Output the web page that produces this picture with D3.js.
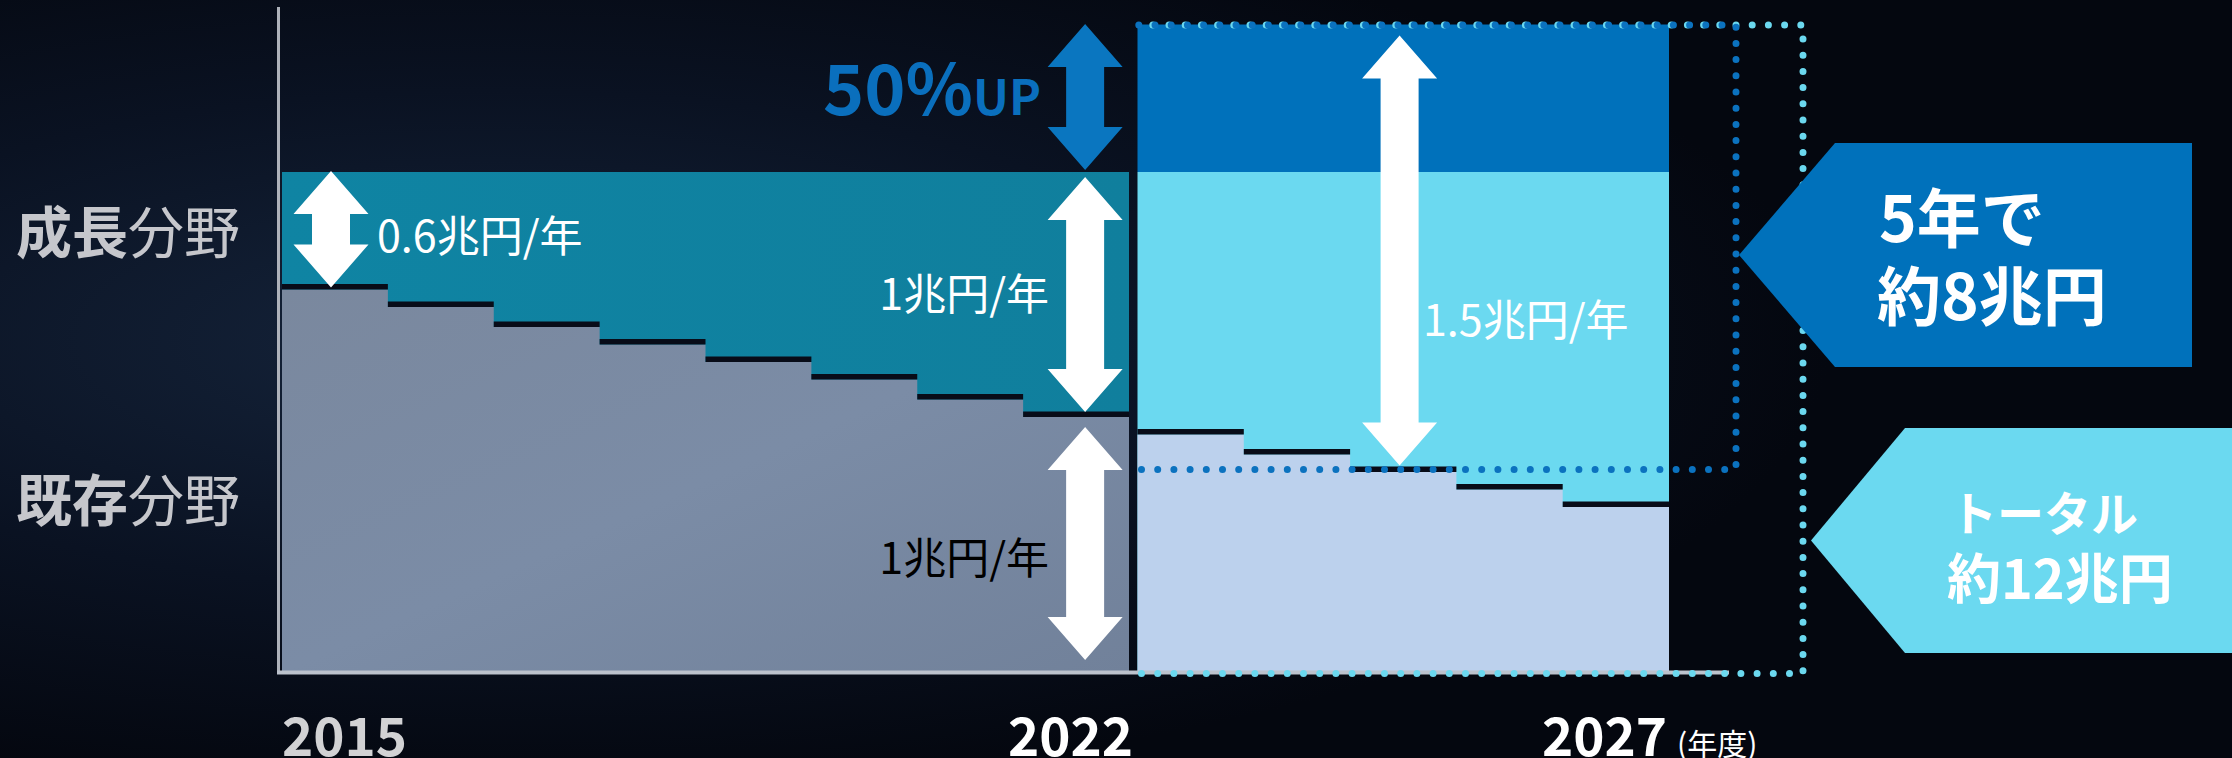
<!DOCTYPE html>
<html>
<head>
<meta charset="utf-8">
<script src="https://cdn.jsdelivr.net/npm/d3@7"></script>
<style>
  html, body { margin: 0; padding: 0; background: #050a15; }
  svg { display: block; }
</style>
</head>
<body>
<svg id="chart" width="2232" height="758"></svg>
<script>
// ---------------- data ----------------
const phase1Years = [2015, 2016, 2017, 2018, 2019, 2020, 2021, 2022];
const phase2Years = [2023, 2024, 2025, 2026, 2027];
// existing-field level per year (schematic units)
const existingPhase1 = [1.53, 1.46, 1.38, 1.31, 1.24, 1.17, 1.09, 1.02];
const existingPhase2 = [0.95, 0.87, 0.80, 0.73, 0.66];
// total investment level (existing + growth)
const totalPhase1 = 2.0;
const totalPhase2Base = 2.0;
const totalPhase2Up = 2.59;
const categoryLabels = [["成長", "分野"], ["既存", "分野"]];
const yearTickLabels = ["2015", "2022", "2027"];
const unitLabel = "(年度)";
const rateLabels = ["0.6兆円/年", "1兆円/年", "1兆円/年", "1.5兆円/年"];
const upLabel = ["50%", "UP"];
const callout1 = ["5年で", "約8兆円"];
const callout2 = ["トータル", "約12兆円"];

// ---------------- setup ----------------
const svg = d3.select("#chart");
const W = 2232, H = 758;
const FONT = "'Noto Sans CJK JP', 'Noto Sans', sans-serif";

const xL = d3.scaleLinear().domain([2015, 2023]).range([282, 1129]);
const xR = d3.scaleLinear().domain([2023, 2028]).range([1137.5, 1669]);
const y = d3.scaleLinear().domain([0, 2]).range([672, 172]);

// background
const defs = svg.append("defs");
const bg = defs.append("radialGradient").attr("id", "bgGlow").attr("cx", "22%").attr("cy", "45%").attr("r", "60%");
bg.append("stop").attr("offset", "0%").attr("stop-color", "#15243b");
bg.append("stop").attr("offset", "55%").attr("stop-color", "#0a1222");
bg.append("stop").attr("offset", "100%").attr("stop-color", "#04070f");
svg.append("rect").attr("width", W).attr("height", H).attr("fill", "url(#bgGlow)");

const greyGrad = defs.append("linearGradient").attr("id", "greyFill").attr("x1", "0").attr("y1", "0").attr("x2", "1").attr("y2", "1");
greyGrad.append("stop").attr("offset", "0%").attr("stop-color", "#7a889e");
greyGrad.append("stop").attr("offset", "50%").attr("stop-color", "#7b8ca6");
greyGrad.append("stop").attr("offset", "100%").attr("stop-color", "#71819a");

const tealGrad = defs.append("linearGradient").attr("id", "tealFill").attr("x1", "0").attr("y1", "0").attr("x2", "1").attr("y2", "0");
tealGrad.append("stop").attr("offset", "0%").attr("stop-color", "#0f84a3");
tealGrad.append("stop").attr("offset", "100%").attr("stop-color", "#107f9d");

const g = svg.append("g");

// step area helper: one path per phase (no seams)
function stepArea(years, values, xs) {
  const pts = years.map((d, i) => [xs(d), y(values[i])]);
  pts.push([xs(years[years.length - 1] + 1), y(values[values.length - 1])]);
  return d3.area().x(p => p[0]).y0(y(0)).y1(p => p[1]).curve(d3.curveStepAfter)(pts);
}

// ---------------- phase 1 (2015-2022) ----------------
g.append("rect")
  .attr("x", xL(2015)).attr("y", y(totalPhase1))
  .attr("width", xL(2023) - xL(2015)).attr("height", y(0) - y(totalPhase1))
  .attr("fill", "url(#tealFill)");

g.append("path").attr("d", stepArea(phase1Years, existingPhase1, xL)).attr("fill", "url(#greyFill)");

g.selectAll(".p1line").data(phase1Years).join("rect")
  .attr("x", d => xL(d)).attr("width", d => xL(d + 1) - xL(d))
  .attr("y", (d, i) => y(existingPhase1[i]) - 5.5)
  .attr("height", 5.5)
  .attr("fill", "#080c18");

// ---------------- phase 2 (2023-2027) ----------------
g.append("rect")
  .attr("x", xR(2023)).attr("y", y(totalPhase2Up))
  .attr("width", xR(2028) - xR(2023)).attr("height", y(totalPhase2Base) - y(totalPhase2Up))
  .attr("fill", "#0071bb");
g.append("rect")
  .attr("x", xR(2023)).attr("y", y(totalPhase2Base))
  .attr("width", xR(2028) - xR(2023)).attr("height", y(0) - y(totalPhase2Base))
  .attr("fill", "#6bd9f0");

g.append("path").attr("d", stepArea(phase2Years, existingPhase2, xR)).attr("fill", "#bcd1ed");

g.selectAll(".p2line").data(phase2Years).join("rect")
  .attr("x", d => xR(d)).attr("width", d => xR(d + 1) - xR(d))
  .attr("y", (d, i) => y(existingPhase2[i]) - 5.5)
  .attr("height", 5.5)
  .attr("fill", "#080c18");

// ---------------- axes ----------------
g.append("line")
  .attr("x1", 278.5).attr("x2", 278.5).attr("y1", 7).attr("y2", y(0) + 2)
  .attr("stroke", "#aeb2ba").attr("stroke-width", 3);
g.append("line")
  .attr("x1", 277).attr("x2", xR(2028) + 60).attr("y1", y(0) + 0.5).attr("y2", y(0) + 0.5)
  .attr("stroke", "#bcc2cc").attr("stroke-width", 4);

// ---------------- dotted outlines ----------------
const dotBase = y(0) + 1.5;
const rightCyan = xR(2028) + 134;
const rightBlue = xR(2028) + 67;
const topDot = y(totalPhase2Up) + 0.5;
g.append("path")
  .attr("d", `M${xR(2023) + 4},${dotBase} L${rightCyan},${dotBase} L${rightCyan},${topDot} L${xR(2023)},${topDot}`)
  .attr("fill", "none").attr("stroke", "#6bd8ef").attr("stroke-width", 7)
  .attr("stroke-linecap", "round").attr("stroke-dasharray", "0 16.2");
const blueBottom = y(existingPhase2[2]) - 2.5;
g.append("path")
  .attr("d", `M${xR(2023) + 4},${blueBottom} L${rightBlue},${blueBottom} L${rightBlue},${topDot} L${xR(2023)},${topDot}`)
  .attr("fill", "none").attr("stroke", "#0b72bf").attr("stroke-width", 7)
  .attr("stroke-linecap", "round").attr("stroke-dasharray", "0 16.2");

// ---------------- arrows ----------------
function doubleArrow(cx, y1, y2, color) {
  const hw = 75 / 2, hh = 43, sw = 38 / 2;
  const p = d3.path();
  p.moveTo(cx, y1);
  p.lineTo(cx + hw, y1 + hh); p.lineTo(cx + sw, y1 + hh);
  p.lineTo(cx + sw, y2 - hh); p.lineTo(cx + hw, y2 - hh);
  p.lineTo(cx, y2);
  p.lineTo(cx - hw, y2 - hh); p.lineTo(cx - sw, y2 - hh);
  p.lineTo(cx - sw, y1 + hh); p.lineTo(cx - hw, y1 + hh);
  p.closePath();
  g.append("path").attr("d", p.toString()).attr("fill", color);
}
doubleArrow(xL(2015) + 49, y(totalPhase1) - 1, y(existingPhase1[0]) - 2, "#ffffff");
doubleArrow(xL(2022) + 62, y(totalPhase1) + 5, y(existingPhase1[7]) - 5, "#ffffff");
doubleArrow(xL(2022) + 62, y(existingPhase1[7]) + 10, y(0) - 12, "#ffffff");
doubleArrow(xL(2022) + 62, y(totalPhase2Up) - 0.5, y(totalPhase1) - 2, "#0a76c0");
doubleArrow(xR(2025) + 49.5, y(totalPhase2Up) + 11, y(existingPhase2[2]) - 6.5, "#ffffff");

// ---------------- rate labels ----------------
const rateStyle = sel => sel.attr("font-family", FONT).attr("font-size", 43)
  .attr("dominant-baseline", "central");
rateStyle(g.append("text").attr("x", 377).attr("y", 233).attr("fill", "#ffffff").text(rateLabels[0]));
rateStyle(g.append("text").attr("x", 1049).attr("y", 291).attr("text-anchor", "end").attr("fill", "#ffffff").text(rateLabels[1]));
rateStyle(g.append("text").attr("x", 1049).attr("y", 555).attr("text-anchor", "end").attr("fill", "#000000").text(rateLabels[2]));
rateStyle(g.append("text").attr("x", 1423).attr("y", 317).attr("fill", "#ffffff").text(rateLabels[3]));

// 50% UP
const up = g.append("text").attr("x", 823).attr("y", 115)
  .attr("font-family", FONT).attr("font-weight", "bold").attr("fill", "#0a6fbd");
up.append("tspan").attr("font-size", 70).text(upLabel[0]);
up.append("tspan").attr("font-size", 48).text(upLabel[1]);

// ---------------- category labels ----------------
[[228, categoryLabels[0]], [496, categoryLabels[1]]].forEach(([cy, lab]) => {
  const t = g.append("text").attr("x", 16).attr("y", cy)
    .attr("font-family", FONT).attr("font-size", 56)
    .attr("dominant-baseline", "central").attr("fill", "#c6c7cc");
  t.append("tspan").attr("font-weight", "bold").text(lab[0]);
  t.append("tspan").attr("font-weight", "normal").text(lab[1]);
});

// ---------------- year labels ----------------
const yearStyle = sel => sel.attr("font-family", FONT).attr("font-size", 53).attr("font-weight", "bold")
  .attr("dominant-baseline", "central");
yearStyle(g.append("text").attr("x", xL(2015)).attr("y", 733).attr("fill", "#d2d2d4").text(yearTickLabels[0]));
yearStyle(g.append("text").attr("x", xL(2023) + 4).attr("y", 733).attr("text-anchor", "end").attr("fill", "#ffffff").text(yearTickLabels[1]));
yearStyle(g.append("text").attr("x", xR(2028) - 2).attr("y", 733).attr("text-anchor", "end").attr("fill", "#ffffff").text(yearTickLabels[2]));
g.append("text").attr("x", xR(2028) + 8).attr("y", 742)
  .attr("font-family", FONT).attr("font-size", 30).attr("dominant-baseline", "central")
  .attr("fill", "#ffffff").text(unitLabel);

// ---------------- callouts ----------------
function callout(tipX, bodyX, rightX, top, bottom, color) {
  const mid = (top + bottom) / 2;
  g.append("path")
    .attr("d", `M${tipX},${mid} L${bodyX},${top} L${rightX},${top} L${rightX},${bottom} L${bodyX},${bottom} Z`)
    .attr("fill", color);
}
callout(1739, 1835, 2192, 143, 367, "#0071bb");
callout(1811, 1905, 2240, 428, 653, "#6bd9f0");

const coStyle = (sel, size) => sel.attr("font-family", FONT).attr("font-weight", "bold")
  .attr("font-size", size).attr("dominant-baseline", "central").attr("fill", "#ffffff");
coStyle(g.append("text").attr("x", 1879).attr("y", 214).text(callout1[0]), 64);
coStyle(g.append("text").attr("x", 1877).attr("y", 292).text(callout1[1]), 64);
coStyle(g.append("text").attr("x", 1950).attr("y", 510).text(callout2[0]), 47);
coStyle(g.append("text").attr("x", 1947).attr("y", 575).text(callout2[1]), 54);
</script>
</body>
</html>
